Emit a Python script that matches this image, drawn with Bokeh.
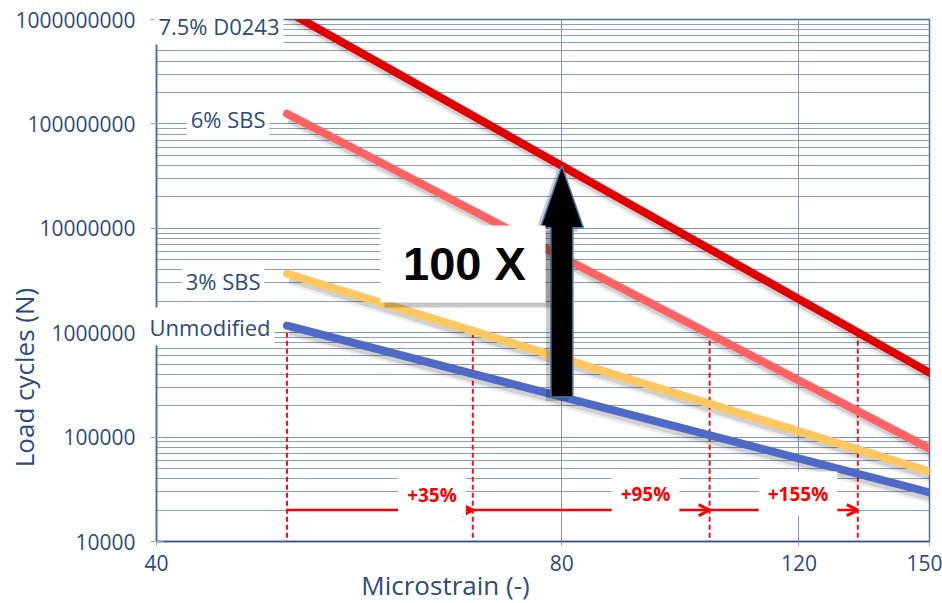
import math
from bokeh.plotting import figure
from bokeh.models import (Range1d, FixedTicker, NumeralTickFormatter, Label,
                          BoxAnnotation, Arrow, OpenHead, GridBox)
from bokeh.embed import file_html
from bokeh.resources import INLINE

# ---------------- data ----------------
series_names = ["7.5% D0243", "6% SBS", "3% SBS", "Unmodified"]
strain_start = [50, 50, 50, 50]
strain_end = [150, 150, 150, 150]
cycles_start = [1.2e9, 1.25e8, 3.67e6, 1.17e6]
cycles_end = [4.14e5, 7.76e4, 4.68e4, 2.95e4]
series_colors = ["#e00000", "#ff6262", "#ffc75f", "#4f69c6"]

crossing_strain = [50, 68.7, 103, 132.7]
crossing_level = 1e6
arrow_level = 2e4
gain_labels = ["+35%", "+95%", "+155%"]

x_ticks = [40, 80, 120, 150]
x_grid_ticks = [80, 120]
y_ticks = [1e4, 1e5, 1e6, 1e7, 1e8, 1e9]
y_minor = [m * 10 ** e for e in range(4, 9) for m in range(2, 10)]
focus_strain = 80
focus_label = "100 X"
x_title = "Microstrain (-)"
y_title = "Load cycles (N)"

# ---------------- layout helpers ----------------
W, H = 942, 603
BL, BR, BT, BB = 156, 13, 19, 62
X0, X1 = x_ticks[0], x_ticks[-1]
Y0, Y1 = y_ticks[0], y_ticks[-1]
FW, FH = W - BL - BR, H - BT - BB
KX = (X1 / X0) ** (1 / FW)
KY = (Y1 / Y0) ** (1 / FH)


def sx(px):
    return X0 * KX ** px


def sy(py):
    return Y0 * KY ** py


def interp(i, x):
    lx0, lx1 = math.log10(strain_start[i]), math.log10(strain_end[i])
    ly0, ly1 = math.log10(cycles_start[i]), math.log10(cycles_end[i])
    t = (math.log10(x) - lx0) / (lx1 - lx0)
    return 10 ** (ly0 + t * (ly1 - ly0))


TXT = "#2c4a7c"
FONT = "Open Sans"

fig = figure(frame_width=FW, frame_height=FH, x_axis_type="log", y_axis_type="log",
             x_range=Range1d(X0, X1), y_range=Range1d(Y0, Y1),
             output_backend="svg", toolbar_location=None,
             min_border_left=BL, min_border_right=BR, min_border_top=BT,
             min_border_bottom=BB, frame_align=False)
fig.background_fill_color = "white"
fig.border_fill_color = "white"
fig.outline_line_color = "#4d7399"
fig.outline_line_width = 1.5

# axes
fig.xaxis.ticker = FixedTicker(ticks=x_ticks)
fig.yaxis.ticker = FixedTicker(ticks=y_ticks)
fig.xaxis.formatter = NumeralTickFormatter(format="0")
fig.yaxis.formatter = NumeralTickFormatter(format="0")
for ax in (fig.xaxis, fig.yaxis):
    ax.major_label_text_font = FONT
    ax.major_label_text_font_size = "21px"
    ax.major_label_text_color = TXT
    ax.minor_tick_line_color = None
    ax.major_tick_line_color = "#8fa5bd"
    ax.axis_line_width = 1.5
fig.yaxis.axis_line_color = "#3d6a96"
fig.xaxis.axis_line_color = "#394d8a"
fig.yaxis.major_tick_in = 7
fig.yaxis.major_tick_out = 6
fig.yaxis.major_label_standoff = 15
fig.xaxis.major_tick_in = 0
fig.xaxis.major_tick_out = 4
fig.xaxis.major_label_standoff = 9

# grids
fig.xgrid.ticker = FixedTicker(ticks=x_grid_ticks)
fig.xgrid.grid_line_color = "#8592bd"
fig.xgrid.grid_line_width = 1
fig.ygrid.ticker = FixedTicker(ticks=y_ticks, minor_ticks=y_minor)
fig.ygrid.grid_line_color = "#7d96b0"
fig.ygrid.grid_line_width = 1
fig.ygrid.minor_grid_line_color = "#8aa0b8"
fig.ygrid.minor_grid_line_width = 1

# dashed verticals at the 1e6 crossings
fig.segment(x0=crossing_strain, y0=[crossing_level] * len(crossing_strain),
            x1=crossing_strain, y1=[Y0] * len(crossing_strain),
            line_color="#ff1010", line_width=2, line_dash="5 3")

# line shadows
for i in range(len(series_names)):
    xs = [strain_start[i] * KX ** 3, strain_end[i] * KX ** 3]
    ys = [cycles_start[i] * KY ** -4, cycles_end[i] * KY ** -4]
    fig.line(xs, ys, line_color="black", line_alpha=0.07, line_width=15)
    fig.line(xs, ys, line_color="black", line_alpha=0.12, line_width=10)

# fatigue lines (bottom to top so red is on top)
for i in reversed(range(len(series_names))):
    fig.line([strain_start[i], strain_end[i]], [cycles_start[i], cycles_end[i]],
             line_color=series_colors[i], line_width=8, line_cap="round")

# big arrow from Unmodified to D0243 at focus strain
xc = focus_strain
yb = interp(3, xc)
yt = interp(0, xc)
hb = yt * KY ** -62
ax_ = [xc * KX ** -11, xc * KX ** 11, xc * KX ** 11, xc * KX ** 21.5, xc,
       xc * KX ** -21.5, xc * KX ** -11]
ay_ = [yb, yb, hb, hb, yt, hb, hb]
fig.patch([v * KX ** -5 for v in ax_], [v * KY ** -4 for v in ay_],
          fill_color="black", fill_alpha=0.2, line_color=None)
fig.patch(ax_, ay_, fill_color="black", line_color="#4a7ab0", line_width=1.5)

# red gain arrows
for i in range(len(gain_labels)):
    fig.add_layout(Arrow(end=OpenHead(size=11, line_color="#ff0000", line_width=3),
                         x_start=crossing_strain[i], y_start=arrow_level,
                         x_end=crossing_strain[i + 1], y_end=arrow_level,
                         line_color="#ff0000", line_width=2.5))

gain_pos = [(275.5, 47), (489, 48), (641.5, 48)]
for (gx, gy), txt in zip(gain_pos, gain_labels):
    fig.add_layout(Label(x=sx(gx), y=sy(gy), text=txt, text_align="center",
                         text_baseline="middle", text_font=FONT,
                         text_font_style="bold", text_font_size="19px",
                         text_color="#ff0000", background_fill_color="white",
                         padding=9))

# "100 X" box
fig.add_layout(BoxAnnotation(left=sx(228), right=sx(394), bottom=sy(234),
                             top=sy(311), fill_color="black", fill_alpha=0.22,
                             line_color=None))
fig.add_layout(BoxAnnotation(left=sx(224), right=sx(389), bottom=sy(239),
                             top=sy(316), fill_color="white", fill_alpha=1.0,
                             line_color=None))
fig.add_layout(Label(x=sx(308), y=sy(278), text=focus_label, text_align="center",
                     text_baseline="middle", text_font="Liberation Sans",
                     text_font_style="bold", text_font_size="47px",
                     text_color="black"))

# ---------- transparent overlay for texts that sit outside the frame ----------
ov = figure(width=W, height=H, x_range=Range1d(0, W), y_range=Range1d(H, 0),
            x_axis_location=None, y_axis_location=None, min_border=0,
            output_backend="svg", toolbar_location=None, frame_align=False)
ov.background_fill_color = None
ov.border_fill_color = None
ov.outline_line_color = None
ov.grid.visible = False

name_pos = [(283, 25), (269, 118), (264, 280), (274, 326)]
for (nx, ny), txt in zip(name_pos, series_names):
    ov.add_layout(Label(x=nx, y=ny, text=txt, text_align="right",
                        text_baseline="middle", text_font=FONT,
                        text_font_size="22px", text_color=TXT,
                        background_fill_color="white", padding=4))

ov.add_layout(Label(x=23, y=377, text=y_title, angle=math.pi / 2,
                    text_align="center", text_baseline="middle",
                    text_font=FONT, text_font_size="26px", text_color=TXT))
ov.add_layout(Label(x=445, y=584, text=x_title, text_align="center",
                    text_baseline="middle", text_font=FONT,
                    text_font_size="26px", text_color=TXT))

p = GridBox(children=[(fig, 0, 0), (ov, 0, 0)])

open("out.html", "w").write(file_html(p, INLINE))
